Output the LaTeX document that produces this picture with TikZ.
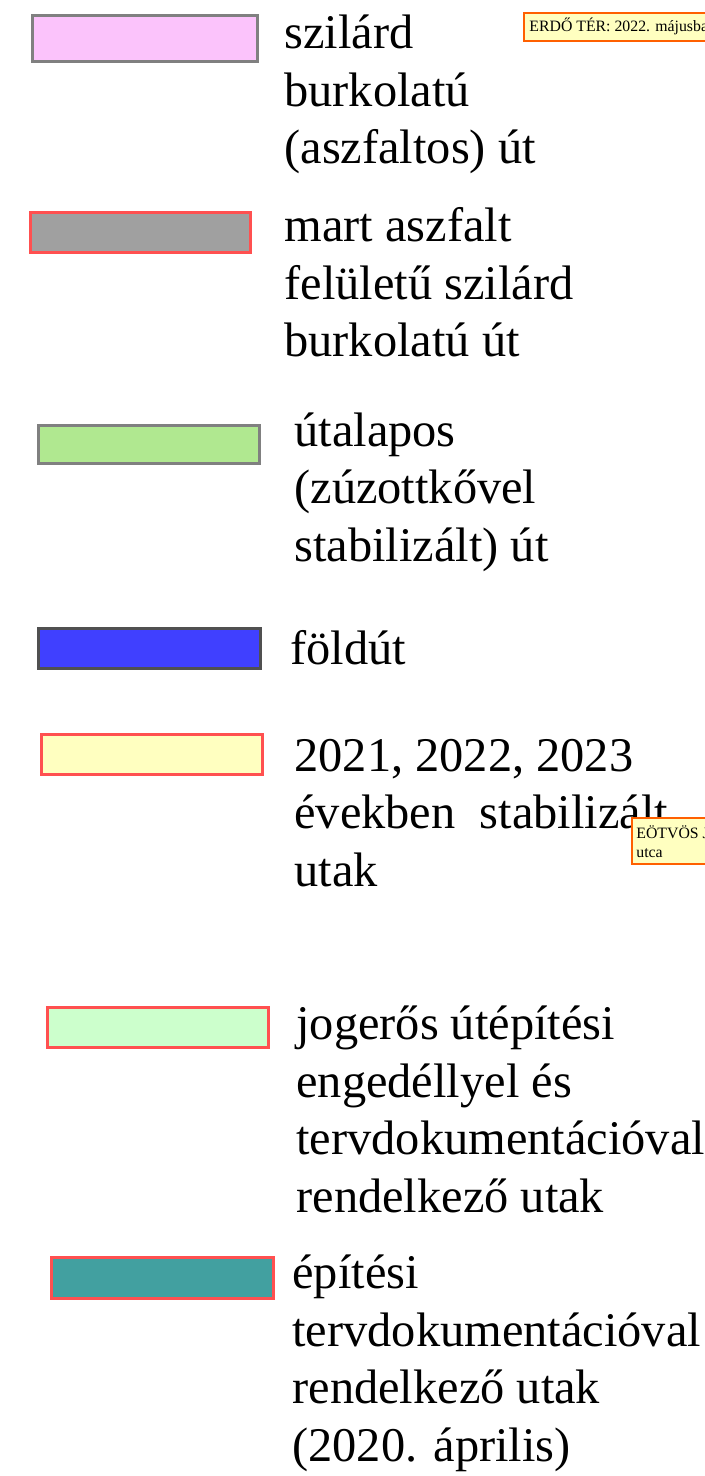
\documentclass[tikz,border=0pt]{standalone}
\usepackage{fontspec}
\setmainfont{Liberation Serif}
\begin{document}
\begin{tikzpicture}[x=0.5pt,y=-0.5pt,
  swatch/.style={line width=1.5pt},
  legtext/.style={anchor=base west,align=left,inner sep=0pt,font=\fontsize{24.2}{28.75}\selectfont},
  notebox/.style={fill=noteyellow,draw=noteorange,line width=1.4pt},
  notetext/.style={anchor=base west,align=left,inner sep=0pt,font=\fontsize{7.9}{9.5}\selectfont}]
\definecolor{pinkfill}{HTML}{FBC3FB}
\definecolor{grayfill}{HTML}{A0A0A0}
\definecolor{greenfill}{HTML}{B0E890}
\definecolor{bluefill}{HTML}{4040FF}
\definecolor{yellowfill}{HTML}{FFFFC0}
\definecolor{lgreenfill}{HTML}{CCFFCC}
\definecolor{tealfill}{HTML}{42A0A0}
\definecolor{redline}{HTML}{FF5050}
\definecolor{grayline}{HTML}{808080}
\definecolor{darkline}{HTML}{505050}
\definecolor{noteyellow}{HTML}{FFFFC0}
\definecolor{noteorange}{HTML}{FF6000}
\useasboundingbox (0,0) rectangle (705,1476);
\clip (0,0) rectangle (705,1476);
\fill[white] (0,0) rectangle (705,1476);
% swatches
\draw[swatch,fill=pinkfill,draw=grayline] (32,16) rectangle (257,62);
\draw[swatch,fill=grayfill,draw=redline] (30,213) rectangle (250,253);
\draw[swatch,fill=greenfill,draw=grayline] (38,425) rectangle (259,463);
\draw[swatch,fill=bluefill,draw=darkline] (38,628) rectangle (260,668);
\draw[swatch,fill=yellowfill,draw=redline] (41,734) rectangle (262,774);
\draw[swatch,fill=lgreenfill,draw=redline] (47,1007) rectangle (268,1047);
\draw[swatch,fill=tealfill,draw=redline] (51,1257) rectangle (273,1298);
% texts (anchored at the baseline of the last line)
\node[legtext] (t1) at (284,164) {szilárd\\burkolatú\\(aszfaltos) út};
\node[legtext] (t2) at (284,357) {mart aszfalt\\felületű szilárd\\burkolatú út};
\node[legtext] (t3) at (294,561) {útalapos\\(zúzottkővel\\stabilizált) út};
\node[legtext] (t4) at (290,664) {földút};
\node[legtext] (t5) at (294,886) {2021, 2022, 2023\\években\ \ stabilizált\\utak};
\node[legtext] (t6) at (296,1212) {jogerős útépítési\\engedéllyel és\\tervdokumentációval\\rendelkező utak};
\node[legtext] (t7) at (292,1461) {építési\\tervdokumentációval\\rendelkező utak\\(2020. április)};
% notes
\draw[notebox] (524,13) rectangle (720,41);
\node[notetext] (n1) at (529,32) {ERDŐ TÉR: 2022. májusban};
\draw[notebox] (632,818) rectangle (720,864);
\node[notetext] (n2) at (636,857) {EÖTVÖS J.\\utca};
\end{tikzpicture}
\end{document}
